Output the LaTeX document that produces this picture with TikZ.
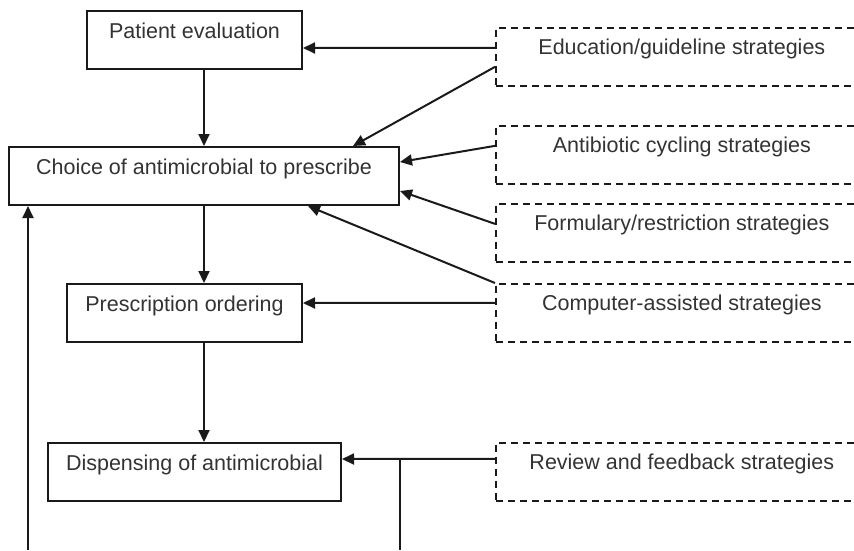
\documentclass[tikz,border=0pt]{standalone}
\usepackage{fontspec}
\setmainfont{Liberation Sans}
\usetikzlibrary{arrows.meta, positioning, calc}
\definecolor{InkGray}{HTML}{333333}
\definecolor{LineBlack}{HTML}{1A1A1A}

\begin{document}
\begin{tikzpicture}[x=1pt, y=-1pt,
    stagebox/.style={draw=LineBlack, line width=2pt, inner sep=0pt, text height=27pt, text depth=31pt,
        font=\fontsize{21.5}{24}\selectfont, text=InkGray, anchor=north west},
    strategybox/.style={stagebox, line width=1.7pt, dash pattern=on 7pt off 5pt, minimum width=372pt},
    arr/.style={draw=LineBlack, line width=2pt, -{Triangle[length=12pt, width=11pt]}},
    plain/.style={draw=LineBlack, line width=2pt}]
    \useasboundingbox (0,0) rectangle (854,550);
    \clip (0,0) rectangle (854,550);

    % process stages
    \node (pat) [stagebox, minimum width=215pt] at (86,10) {Patient evaluation};
    \node (choice) [stagebox, minimum width=390pt] at (8,146) {Choice of antimicrobial to prescribe};
    \node (presc) [stagebox, minimum width=235pt] at (66,283) {Prescription ordering};
    \node (disp) [stagebox, minimum width=293pt] at (47,442) {Dispensing of antimicrobial};

    % intervention strategies
    \node (edu) [strategybox] at (495,27) {Education/guideline strategies};
    \node (cyc) [strategybox] at (495,125) {Antibiotic cycling strategies};
    \node (form) [strategybox] at (495,203) {Formulary/restriction strategies};
    \node (comp) [strategybox] at (495,283) {Computer-assisted strategies};
    \node (rev) [strategybox] at (495,442) {Review and feedback strategies};

    \coordinate (lb) at (28,550);
    \coordinate (fb) at (400,550);
    \coordinate (rvin) at ([yshift=13pt]rev.west);

    % main flow
    \draw[arr] (choice.north |- pat.south) -- (choice.north);
    \draw[arr] (choice.south) -- (choice.south |- presc.north);
    \draw[arr] (choice.south |- presc.south) -- (choice.south |- disp.north);
    \draw[arr] (lb) -- (lb |- choice.south);

    % strategies acting on the stages
    \draw[arr] ([yshift=9pt]edu.west) -- ([yshift=-8pt]pat.east);
    \draw[arr] ([yshift=-10pt]edu.west) -- ([xshift=149pt]choice.north);
    \draw[arr] ([yshift=9pt]cyc.west) -- ([yshift=14pt]choice.east);
    \draw[arr] ([yshift=9pt]form.west) -- ([yshift=-15pt]choice.east);
    \draw[arr] (comp.north west) -- ([xshift=104pt]choice.south);
    \draw[arr] ([yshift=10pt]comp.west) -- ([yshift=10pt]presc.east);
    \draw[arr] (rvin) -- ([yshift=13pt]disp.east);
    \draw[plain] (fb) -- (fb |- rvin);
\end{tikzpicture}
\end{document}
